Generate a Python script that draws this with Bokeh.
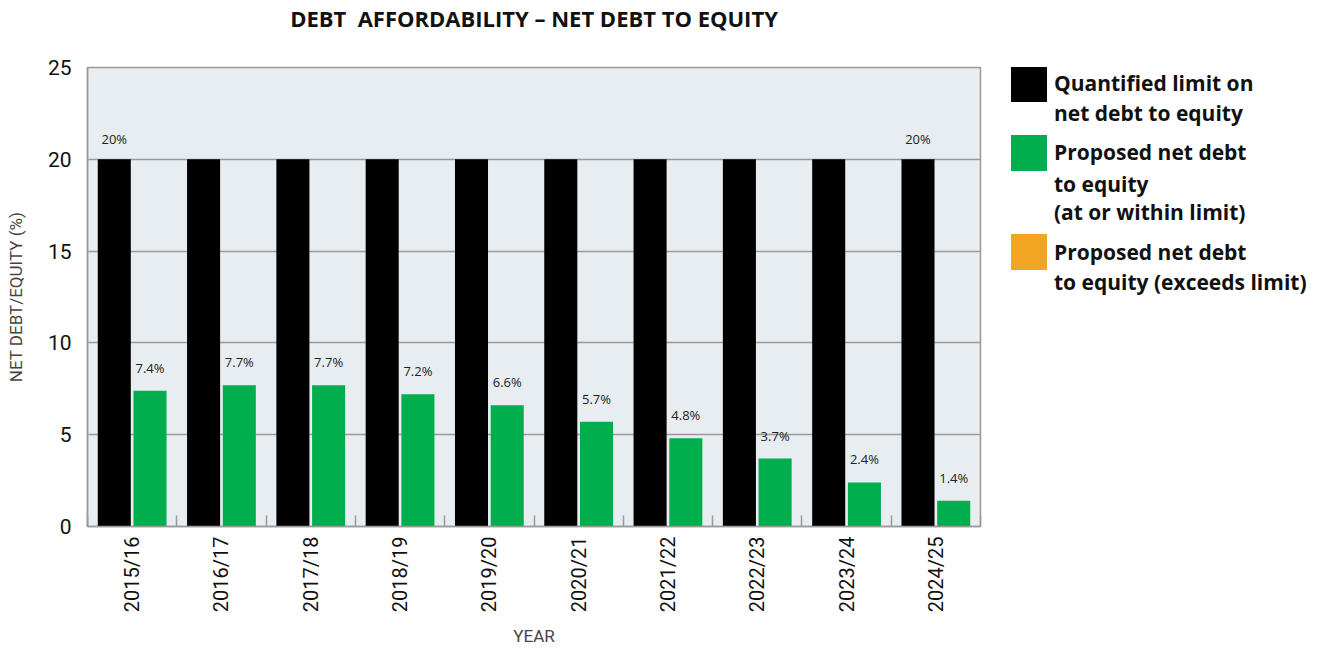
from bokeh.plotting import figure
from bokeh.layouts import row
from bokeh.models import (ColumnDataSource, FixedTicker, Legend, LegendItem, Range1d, Title)
from bokeh.core.properties import value
from bokeh.embed import file_html
from bokeh.resources import INLINE

# ---- data ----
years = ["2015/16", "2016/17", "2017/18", "2018/19", "2019/20",
         "2020/21", "2021/22", "2022/23", "2023/24", "2024/25"]
limit = [20, 20, 20, 20, 20, 20, 20, 20, 20, 20]
limit_labels = ["20%", "", "", "", "", "", "", "", "", "20%"]
proposed = [7.4, 7.7, 7.7, 7.2, 6.6, 5.7, 4.8, 3.7, 2.4, 1.4]
proposed_labels = ["7.4%", "7.7%", "7.7%", "7.2%", "6.6%", "5.7%", "4.8%", "3.7%", "2.4%", "1.4%"]
exceeds = [0, 0, 0, 0, 0, 0, 0, 0, 0, 0]   # no year exceeds the limit
y_ticks = [0, 5, 10, 15, 20, 25]
legend_groups = [
    ["Quantified limit on", "net debt to equity"],
    ["Proposed net debt", "to equity", "(at or within limit)"],
    ["Proposed net debt", "to equity (exceeds limit)"],
]

BLACK = "#000000"
GREEN = "#00AE4D"
ORANGE = "#F2A522"
BG = "#E8EDF1"
GRAYLINE = "#9A9A9A"

n = len(years)
centers = [i + 0.5 for i in range(n)]
src = ColumnDataSource(dict(
    xc=centers,
    xl=[c - 0.2 for c in centers],
    xr=[c + 0.2 for c in centers],
    limit=limit, limit_labels=limit_labels,
    proposed=proposed, proposed_labels=proposed_labels,
    exceeds=exceeds,
))

W, H = 1316, 650
PW = 985
FRAME_TOP, FRAME_BOTTOM = 67, 526
p = figure(width=PW, height=H, output_backend="svg", toolbar_location=None,
           x_range=Range1d(0, n), y_range=Range1d(0, 25),
           min_border_left=87, min_border_right=PW - 980, min_border_top=FRAME_TOP,
           min_border_bottom=H - FRAME_BOTTOM)

p.background_fill_color = BG
p.border_fill_color = "white"
p.outline_line_color = GRAYLINE
p.outline_line_width = 1.5

p.vbar(x="xl", top="limit", width=0.37, source=src, fill_color=BLACK, line_color=None)
p.vbar(x="xr", top="proposed", width=0.37, source=src, fill_color=GREEN, line_color=None)
p.vbar(x="xr", top="exceeds", width=0.37, source=src, fill_color=ORANGE, line_color=None)

p.text(x="xl", y="limit", text="limit_labels", source=src, text_align="center",
       text_baseline="bottom", y_offset=-11, text_font=value("Open Sans"),
       text_font_size="13px", text_color="#222222")
p.text(x="xr", y="proposed", text="proposed_labels", source=src, text_align="center",
       text_baseline="bottom", y_offset=-14, text_font=value("Open Sans"),
       text_font_size="13px", text_color="#222222")

# axes
p.xaxis.ticker = FixedTicker(ticks=centers, minor_ticks=list(range(0, n + 1)))
p.xaxis.major_label_overrides = {c: y for c, y in zip(centers, years)}
p.xaxis.major_label_orientation = 1.5708
p.xaxis.major_tick_in = 0
p.xaxis.major_tick_out = 0
p.xaxis.minor_tick_in = 11
p.xaxis.minor_tick_out = 0
p.xaxis.minor_tick_line_color = GRAYLINE
p.xaxis.minor_tick_line_width = 1.5
p.xaxis.axis_line_color = GRAYLINE
p.xaxis.axis_line_width = 1.5
p.xaxis.major_label_text_font = "Roboto"
p.xaxis.major_label_text_font_size = "20px"
p.xaxis.major_label_text_color = "#111111"
p.xaxis.major_label_standoff = 10
p.xaxis.axis_label = "YEAR"
p.xaxis.axis_label_text_font = "Roboto"
p.xaxis.axis_label_text_font_style = "normal"
p.xaxis.axis_label_text_font_size = "17px"
p.xaxis.axis_label_standoff = 11

p.yaxis.ticker = FixedTicker(ticks=y_ticks)
p.yaxis.major_tick_in = 0
p.yaxis.major_tick_out = 0
p.yaxis.minor_tick_line_color = None
p.yaxis.axis_line_color = GRAYLINE
p.yaxis.axis_line_width = 1.5
p.yaxis.major_label_text_font = "Roboto"
p.yaxis.major_label_text_font_size = "21px"
p.yaxis.major_label_text_color = "#111111"
p.yaxis.major_label_standoff = 16
p.yaxis.axis_label = "NET DEBT/EQUITY (%)"
p.yaxis.axis_label_text_font = "Roboto"
p.yaxis.axis_label_text_font_style = "normal"
p.yaxis.axis_label_text_font_size = "17px"
p.yaxis.axis_label_standoff = 19

p.xgrid.grid_line_color = None
p.ygrid.ticker = FixedTicker(ticks=y_ticks)
p.ygrid.grid_line_color = GRAYLINE
p.ygrid.grid_line_width = 1.5

p.title = Title(text="DEBT\u00a0 AFFORDABILITY \u2013 NET DEBT TO EQUITY", align="center",
                vertical_align="top", standoff=0,
                text_font="Open Sans", text_font_size="22px", text_font_style="bold",
                text_color="#111111")
# empty spacer between title and plot area
p.add_layout(Title(text="\u00a0", text_font_size="1px", standoff=30), "above")

# ---- legend panel (separate figure to the right) ----
LW = W - PW
q = figure(width=LW, height=H, output_backend="svg", toolbar_location=None,
           x_axis_location=None, y_axis_location=None,
           min_border_left=0, min_border_right=0, min_border_top=0, min_border_bottom=0,
           x_range=Range1d(0, 1), y_range=Range1d(0, 1))
q.grid.grid_line_color = None
q.outline_line_color = None
q.background_fill_color = "white"
q.border_fill_color = "white"

sw_limit = q.vbar(x="xl", top="limit", width=0.37, source=src, fill_color=BLACK,
                  line_color=None, visible=False)
sw_prop = q.vbar(x="xr", top="proposed", width=0.37, source=src, fill_color=GREEN,
                 line_color=None, visible=False)
sw_exc = q.vbar(x="xr", top="exceeds", width=0.37, source=src, fill_color=ORANGE,
                line_color=None, visible=False)
sw_blank = q.vbar(x="xr", top="exceeds", width=0.37, source=src, fill_color=None,
                  line_color=None, visible=False)

GLYPH = 45          # swatch drawn at 80% of this
LINE = 29.5         # line pitch of legend text
X0 = 21             # legend left, px from left of legend panel
group_centers = [83, 152, 251.5]   # swatch centre, px from top of page


def style(lg, gh):
    lg.glyph_width = GLYPH
    lg.glyph_height = gh
    lg.padding = 0
    lg.margin = 0
    lg.spacing = 0
    lg.label_standoff = 3
    lg.label_text_font = "Open Sans"
    lg.label_text_font_style = "bold"
    lg.label_text_font_size = "21px"
    lg.label_text_color = "#111111"
    lg.label_text_line_height = 1.47
    lg.label_height = 1
    lg.border_line_color = None
    lg.background_fill_alpha = 0
    lg.inactive_fill_alpha = 0


for grp, sw, c in zip(legend_groups, [sw_limit, sw_prop, sw_exc], group_centers):
    # first line with swatch
    la = Legend(items=[LegendItem(label=grp[0], renderers=[sw])],
                location=(X0, FRAME_BOTTOM - (c - GLYPH / 2) - GLYPH))
    style(la, GLYPH)
    q.add_layout(la, "center")
    # remaining lines
    rest = grp[1:]
    hb = LINE * len(rest)
    cb = c + LINE * (1 + len(rest)) / 2
    lb = Legend(items=[LegendItem(label="\n".join(rest), renderers=[sw_blank])],
                location=(X0, FRAME_BOTTOM - cb - hb / 2))
    style(lb, 1)
    q.add_layout(lb, "center")

layout = row(p, q, spacing=0)
open("out.html", "w").write(file_html(layout, INLINE))
